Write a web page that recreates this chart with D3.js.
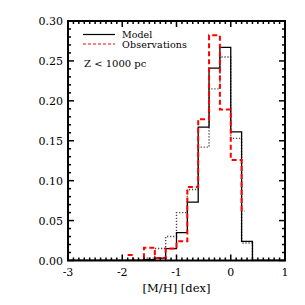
<!DOCTYPE html>
<html><head><meta charset="utf-8">
<script src="https://cdn.jsdelivr.net/npm/d3@7"></script>
<style>body{margin:0;background:#fff}svg{display:block}</style>
</head><body>
<script>
// ---- data ----
const modelEdges = [-1.8,-1.6,-1.4,-1.2,-1.0,-0.8,-0.6,-0.4,-0.2,0.0,0.2,0.4];
const modelValues = [0,0.001,0.003,0.015,0.035,0.073,0.167,0.241,0.267,0.161,0.024,0];
const dottedValues = [0,0.003,0.015,0.030,0.060,0.089,0.142,0.215,0.255,0.153,0.022,0];
const obsCenters = [-1.9,-1.7,-1.5,-1.3,-1.1,-0.9,-0.7,-0.5,-0.3,-0.1,0.1,0.3];
const obsValues = [0.007,0,0.016,0.003,0.015,0.024,0.092,0.177,0.282,0.189,0.126,0.062];
const xTicks = [-3,-2,-1,0,1];
const yTicks = [0,0.05,0.10,0.15,0.20,0.25,0.30];
const legendLabels = ["Model","Observations"];
const annotation = "Z < 1000 pc";
const xLabel = "[M/H] [dex]";

const W=305,H=305, L=68,R=285,T=21,B=260.5;
const svg=d3.select("body").append("svg").attr("width",W).attr("height",H);
const x=d3.scaleLinear().domain([-3,1]).range([L,R]);
const y=d3.scaleLinear().domain([0,0.30]).range([B,T]);
const font="'DejaVu Serif','Liberation Serif',serif";

svg.append("clipPath").attr("id","c").append("rect").attr("x",L).attr("y",T-5).attr("width",R-L).attr("height",B-T+5);
const g=svg.append("g").attr("clip-path","url(#c)");

function modelPts(vals){
  const pts=[[-3,0]];
  modelEdges.forEach((e,i)=>pts.push([e,vals[i]]));
  pts.push([1,0]);
  return pts;
}
const stepLine=d3.line().x(d=>x(d[0])).y(d=>y(d[1])).curve(d3.curveStepAfter);
g.append("path").attr("d",stepLine(modelPts(dottedValues))).attr("fill","none")
  .attr("stroke","#444").attr("stroke-width",1.4).attr("stroke-dasharray","1.2,1.8");
g.append("path").attr("d",stepLine(modelPts(modelValues))).attr("fill","none")
  .attr("stroke","#000").attr("stroke-width",1.3);
const obsPts=[[obsCenters[0],obsValues[0]]];
for(let i=1;i<obsCenters.length;i++) obsPts.push([(obsCenters[i-1]+obsCenters[i])/2,obsValues[i]]);
obsPts.push([obsCenters[obsCenters.length-1]-0.04,obsValues[obsValues.length-1]]);
g.append("path").attr("d",stepLine(obsPts)).attr("fill","none")
  .attr("stroke","#f00").attr("stroke-width",2).attr("stroke-dasharray","5,3");

const ax=svg.append("g").attr("stroke","#000");
function minor(a,b,s){const r=[];for(let v=a;v<=b+1e-9;v+=s)r.push(+v.toFixed(4));return r;}
minor(-3,1,0.1).forEach(v=>{
  const maj=Math.abs(v-Math.round(v))<1e-6, len=maj?6:3;
  ax.append("line").attr("x1",x(v)).attr("x2",x(v)).attr("y1",B).attr("y2",B-len).attr("stroke-width",1.5);
  ax.append("line").attr("x1",x(v)).attr("x2",x(v)).attr("y1",T).attr("y2",T+len).attr("stroke-width",1.5);
});
minor(0,0.30,0.01).forEach(v=>{
  const maj=Math.abs(v*20-Math.round(v*20))<1e-6, len=maj?6:3;
  ax.append("line").attr("y1",y(v)).attr("y2",y(v)).attr("x1",L).attr("x2",L+len).attr("stroke-width",1.5);
  ax.append("line").attr("y1",y(v)).attr("y2",y(v)).attr("x1",R).attr("x2",R-len).attr("stroke-width",1.5);
});
svg.append("rect").attr("x",L).attr("y",T).attr("width",R-L).attr("height",B-T)
  .attr("fill","none").attr("stroke","#000").attr("stroke-width",2);

svg.selectAll(".xt").data(xTicks).enter().append("text")
  .attr("x",d=>x(d)).attr("y",276).attr("text-anchor","middle")
  .attr("font-family",font).attr("font-size",11).text(d=>d);
svg.selectAll(".yt").data(yTicks).enter().append("text")
  .attr("x",63).attr("y",d=>y(d)+4).attr("text-anchor","end")
  .attr("font-family",font).attr("font-size",11).text(d=>d.toFixed(2));
svg.append("text").attr("x",(L+R)/2).attr("y",292).attr("text-anchor","middle")
  .attr("font-family",font).attr("font-size",11.5).text(xLabel);

svg.append("line").attr("x1",83).attr("x2",115).attr("y1",34.5).attr("y2",34.5).attr("stroke","#000").attr("stroke-width",1.2);
svg.append("line").attr("x1",83).attr("x2",115).attr("y1",44).attr("y2",44).attr("stroke","#f00").attr("stroke-width",1.2).attr("stroke-dasharray","3,2");
legendLabels.forEach((t,i)=>{
  const tx=svg.append("text").attr("x",122).attr("y",37.5+i*10.5)
    .attr("font-family",font).attr("font-size",9.5).text(t);
  if(i) tx.attr("textLength",65);
});
svg.append("text").attr("x",84).attr("y",67).attr("font-family",font).attr("font-size",10).text(annotation);
</script>
</body></html>
